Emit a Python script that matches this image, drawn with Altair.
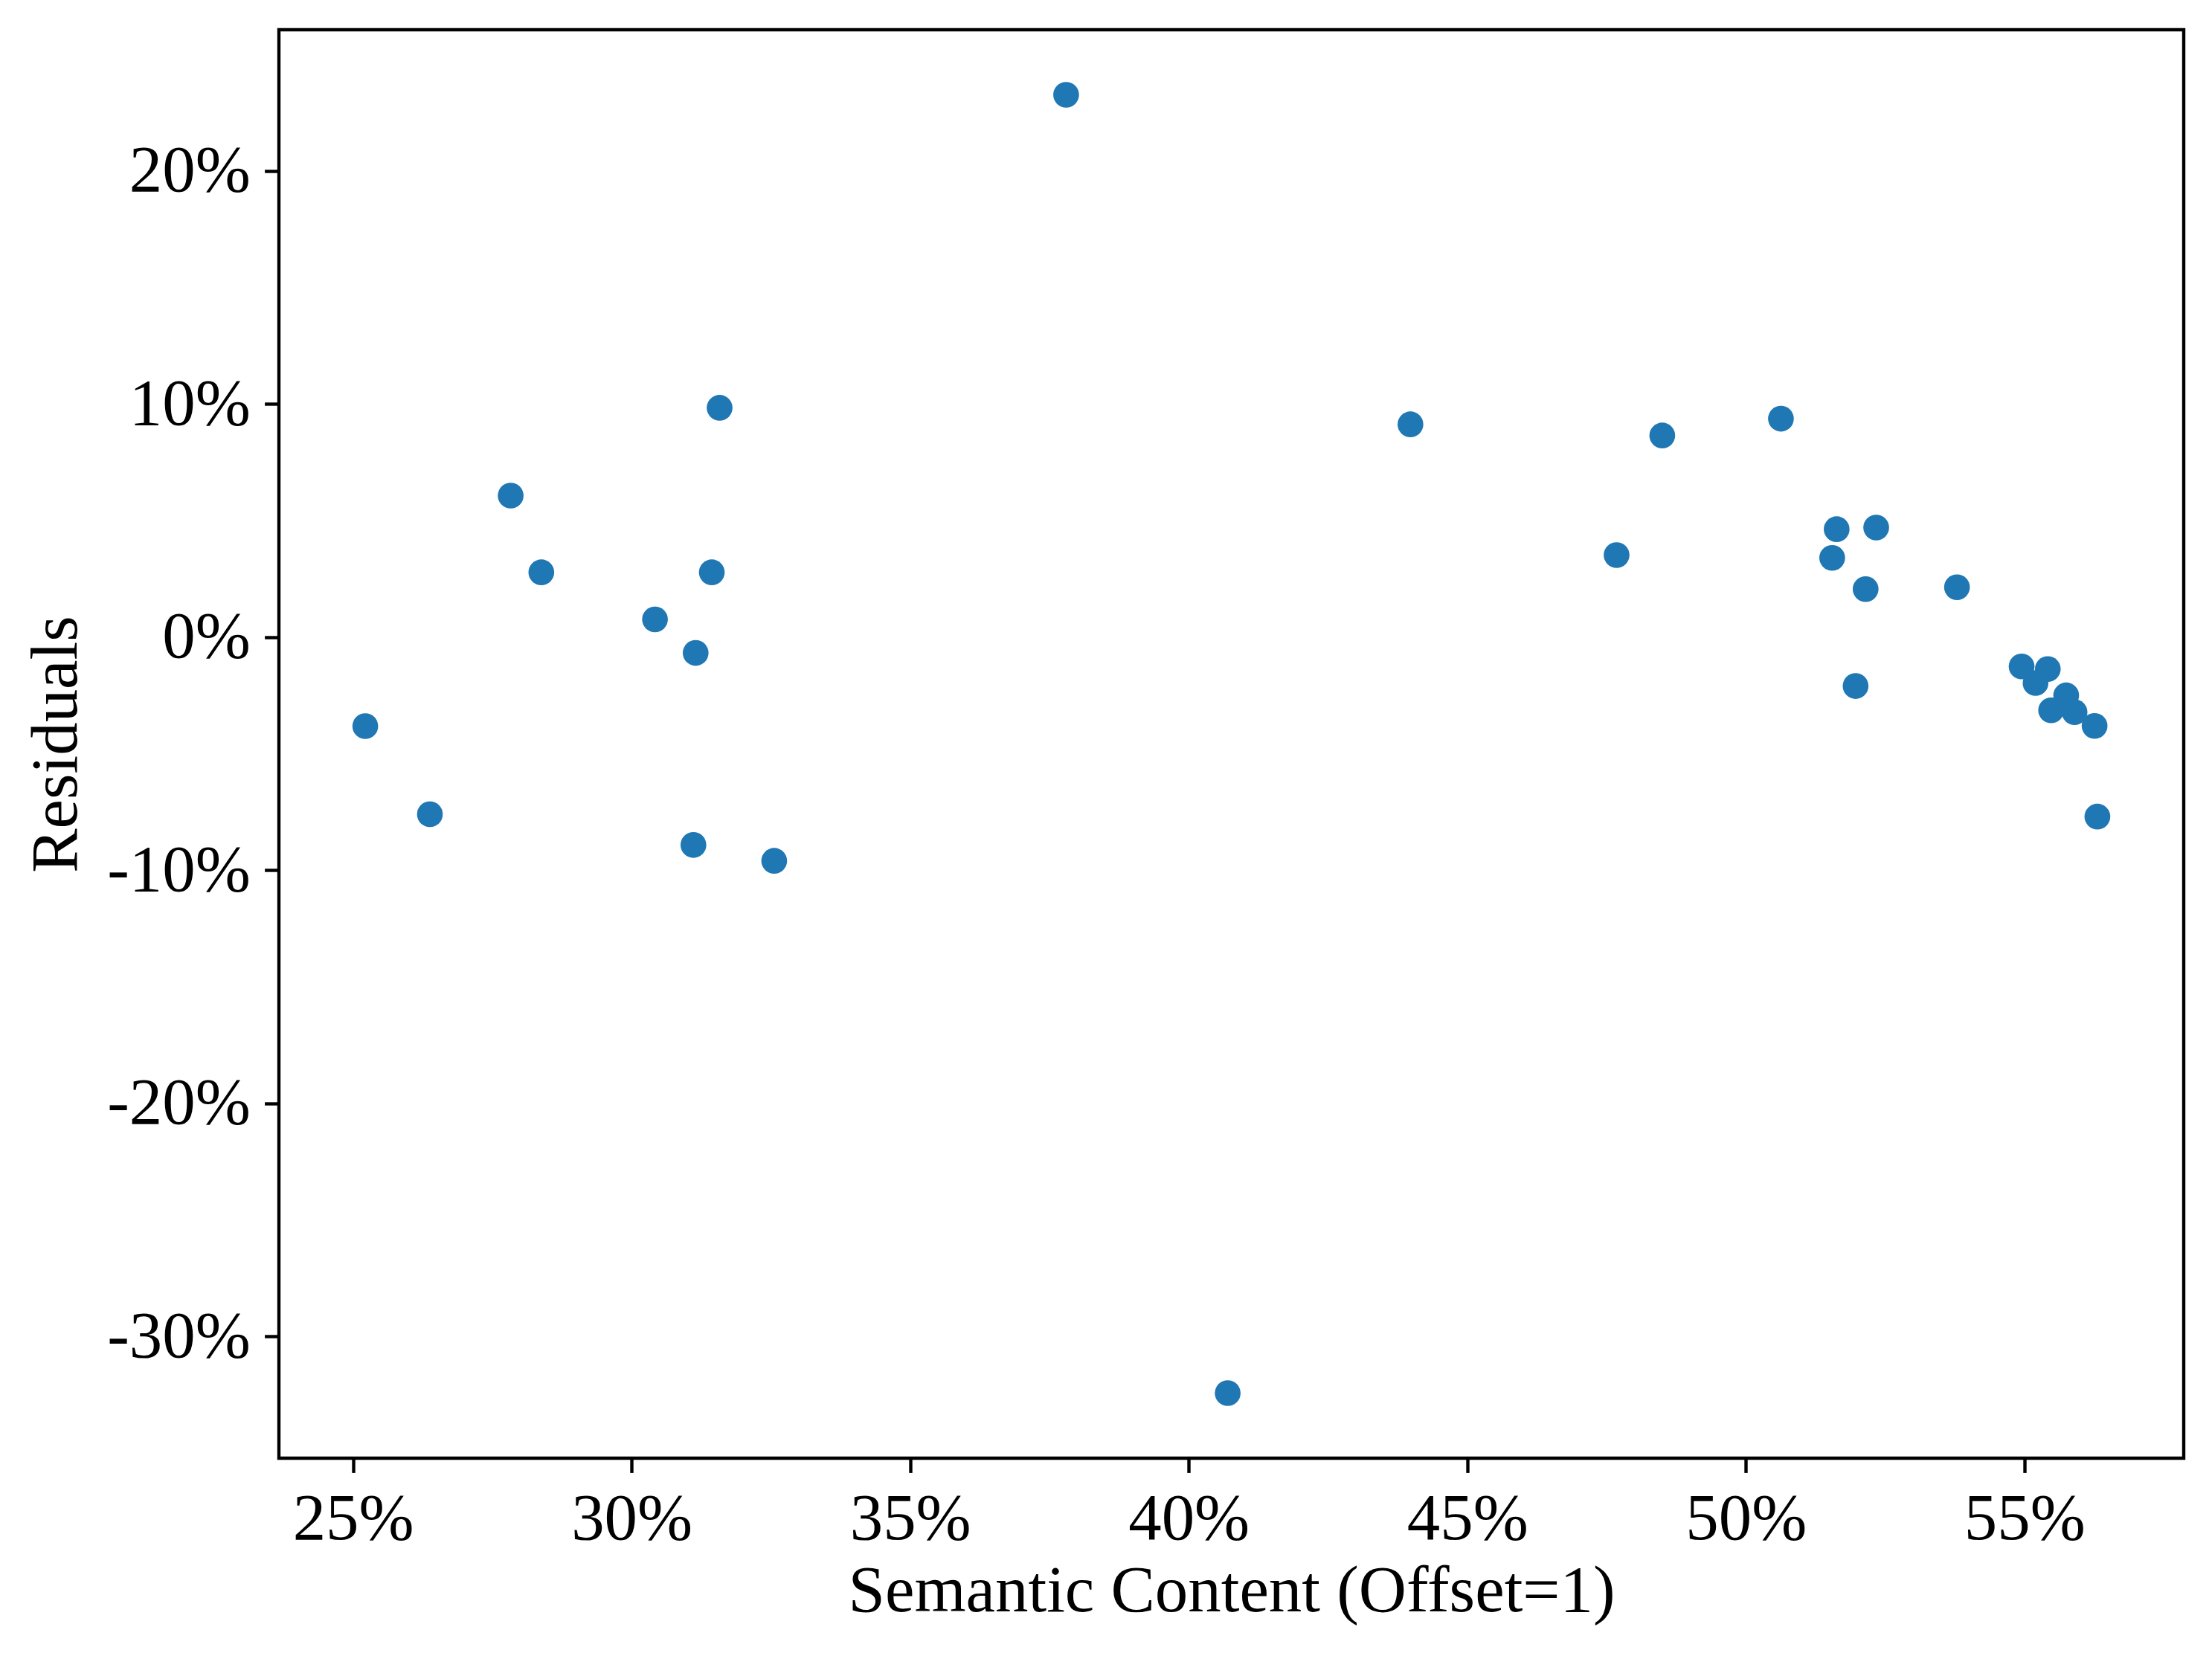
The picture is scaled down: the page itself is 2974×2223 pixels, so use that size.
import altair as alt
import pandas as pd

# Semantic content (offset=1), in percent
semantic = [25.22, 26.38, 27.83, 28.38, 30.42, 31.15, 31.11, 31.44, 31.58, 32.56,
            37.80, 40.70, 43.98,
            47.68, 48.50, 50.63, 51.55, 51.63, 51.97, 52.15, 52.34, 53.79,
            54.95, 55.42, 55.20, 55.75, 55.48, 55.90, 56.26, 56.31]
# Residuals, in percent
residuals = [-3.82, -7.60, 6.07, 2.78, 0.76, -0.68, -8.92, 2.78, 9.84, -9.60,
             23.27, -32.44, 9.13,
             3.52, 8.65, 9.37, 3.40, 4.63, -2.10, 2.06, 4.70, 2.14,
             -1.26, -1.37, -1.97, -2.50, -3.14, -3.22, -3.81, -7.70]

x_ticks = [25, 30, 35, 40, 45, 50, 55]
y_ticks = [-30, -20, -10, 0, 10, 20]

df = pd.DataFrame({"semantic": semantic, "residual": residuals})

FONT = "Liberation Serif"
FS = 88.9
LW = 4.4

chart = alt.Chart(df).mark_circle(size=1200, opacity=1, color="#1f77b4").encode(
    x=alt.X("semantic:Q",
            scale=alt.Scale(domain=[23.67, 57.86], nice=False, zero=False),
            axis=alt.Axis(values=x_ticks, labelExpr="datum.value + '%'",
                          title="Semantic Content (Offset=1)", grid=False, domain=False,
                          tickSize=19.4, tickWidth=LW, tickColor="black",
                          labelPadding=19.4, labelFont=FONT, labelFontSize=FS,
                          labelColor="black", titleFont=FONT, titleFontSize=FS,
                          titleFontWeight="normal", titleColor="black", titlePadding=9,
                          labelFlush=False, labelLimit=1000)),
    y=alt.Y("residual:Q",
            scale=alt.Scale(domain=[-35.23, 26.06], nice=False, zero=False),
            axis=alt.Axis(values=y_ticks, labelExpr="datum.value + '%'",
                          title="Residuals", grid=False, domain=False,
                          tickSize=19.4, tickWidth=LW, tickColor="black",
                          labelPadding=19.4, labelFont=FONT, labelFontSize=FS,
                          labelColor="black", titleFont=FONT, titleFontSize=FS,
                          titleFontWeight="normal", titleColor="black", titlePadding=54,
                          labelFlush=False, labelLimit=1000)),
).properties(
    width=2561, height=1921,
    autosize=alt.AutoSizeParams(type="none"),
    padding={"left": 367, "top": 32, "right": 30, "bottom": 250},
).configure_view(
    stroke="black", strokeWidth=LW
)

chart.save("out.html", embed_options={"renderer": "svg", "actions": False})
